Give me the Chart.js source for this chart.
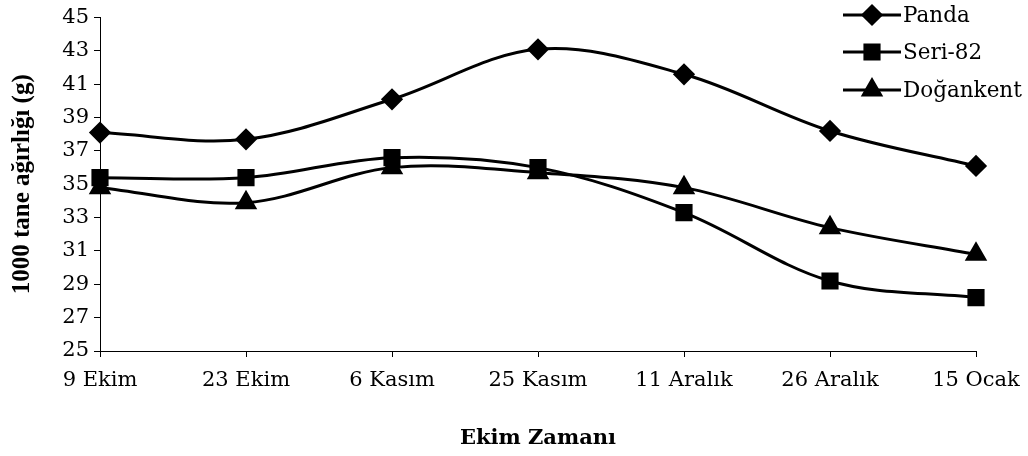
<!DOCTYPE html>
<html>
<head>
<meta charset="utf-8">
<script src="https://cdn.jsdelivr.net/npm/chart.js@4.4.1/dist/chart.umd.min.js"></script>
<style>
  html, body { margin: 0; padding: 0; background: #fff; }
  #wrap { width: 1028px; height: 456px; }
</style>
</head>
<body>
<div id="wrap"><canvas id="tane"></canvas></div>
<script>
var ekimZamani = ["9 Ekim", "23 Ekim", "6 Kasım", "25 Kasım", "11 Aralık", "26 Aralık", "15 Ocak"];
var panda = [38.1, 37.7, 40.1, 43.1, 41.6, 38.2, 36.1];
var seri82 = [35.4, 35.4, 36.6, 36.0, 33.3, 29.2, 28.2];
var dogankent = [34.8, 33.9, 36.0, 35.7, 34.8, 32.4, 30.8];

var serif = "'DejaVu Serif', serif";
var timesBold = "'Liberation Serif', 'Times New Roman', serif";

// legend drawn as line + marker, like the original
var lineLegend = {
  id: "lineLegend",
  afterDraw: function (chart) {
    var ctx = chart.ctx;
    var rows = [15, 52, 90];
    ctx.save();
    chart.data.datasets.forEach(function (ds, i) {
      var y = rows[i];
      ctx.strokeStyle = "#000";
      ctx.lineWidth = 3;
      ctx.beginPath();
      ctx.moveTo(843, y);
      ctx.lineTo(901, y);
      ctx.stroke();
      ctx.fillStyle = "#000";
      Chart.helpers.drawPoint(ctx, {
        pointStyle: ds.pointStyle,
        radius: ds.pointRadius,
        borderWidth: 1
      }, 872, y);
      ctx.font = "21.5px " + serif;
      ctx.textBaseline = "middle";
      ctx.textAlign = "left";
      ctx.fillText(ds.label, 903, y + 1);
    });
    ctx.restore();
  }
};

function seri(label, data, style, r) {
  return {
    label: label,
    data: data,
    borderColor: "#000",
    backgroundColor: "#000",
    borderWidth: 3,
    pointStyle: style,
    pointRadius: r,
    pointBackgroundColor: "#000",
    pointBorderColor: "#000",
    tension: 0.35,
    clip: false
  };
}

new Chart(document.getElementById("tane"), {
  type: "line",
  data: {
    labels: ekimZamani,
    datasets: [
      seri("Panda", panda, "rectRot", 9),
      seri("Seri-82", seri82, "rect", 10),
      seri("Doğankent", dogankent, "triangle", 10)
    ]
  },
  options: {
    responsive: true,
    maintainAspectRatio: false,
    animation: false,
    layout: { padding: { top: 6, right: 0, left: 0, bottom: 0 } },
    plugins: {
      legend: { display: false },
      tooltip: { enabled: false }
    },
    scales: {
      x: {
        offset: false,
        grid: { display: true, drawOnChartArea: false, color: "#000", tickLength: 6 },
        border: { display: true, color: "#000", width: 1 },
        ticks: { color: "#000", font: { family: serif, size: 21 }, padding: 11, maxRotation: 0 },
        title: {
          display: true,
          text: "Ekim Zamanı",
          color: "#000",
          font: { family: serif, size: 21, weight: "bold" },
          padding: { top: 0, bottom: 5 }
        },
        afterFit: function (scale) {
          scale.height = 105;
          scale.paddingRight = 52;
        }
      },
      y: {
        min: 25,
        max: 45,
        grid: { display: true, drawOnChartArea: false, color: "#000", tickLength: 6 },
        border: { display: true, color: "#000", width: 1 },
        ticks: { stepSize: 2, color: "#000", font: { family: serif, size: 21 }, padding: 5 },
        title: {
          display: true,
          text: "1000 tane ağırlığı (g)",
          color: "#000",
          font: { family: timesBold, size: 25, weight: "bold" },
          padding: { top: 8, bottom: 4 }
        },
        afterFit: function (scale) { scale.width = 100; }
      }
    }
  },
  plugins: [lineLegend]
});
</script>
</body>
</html>
